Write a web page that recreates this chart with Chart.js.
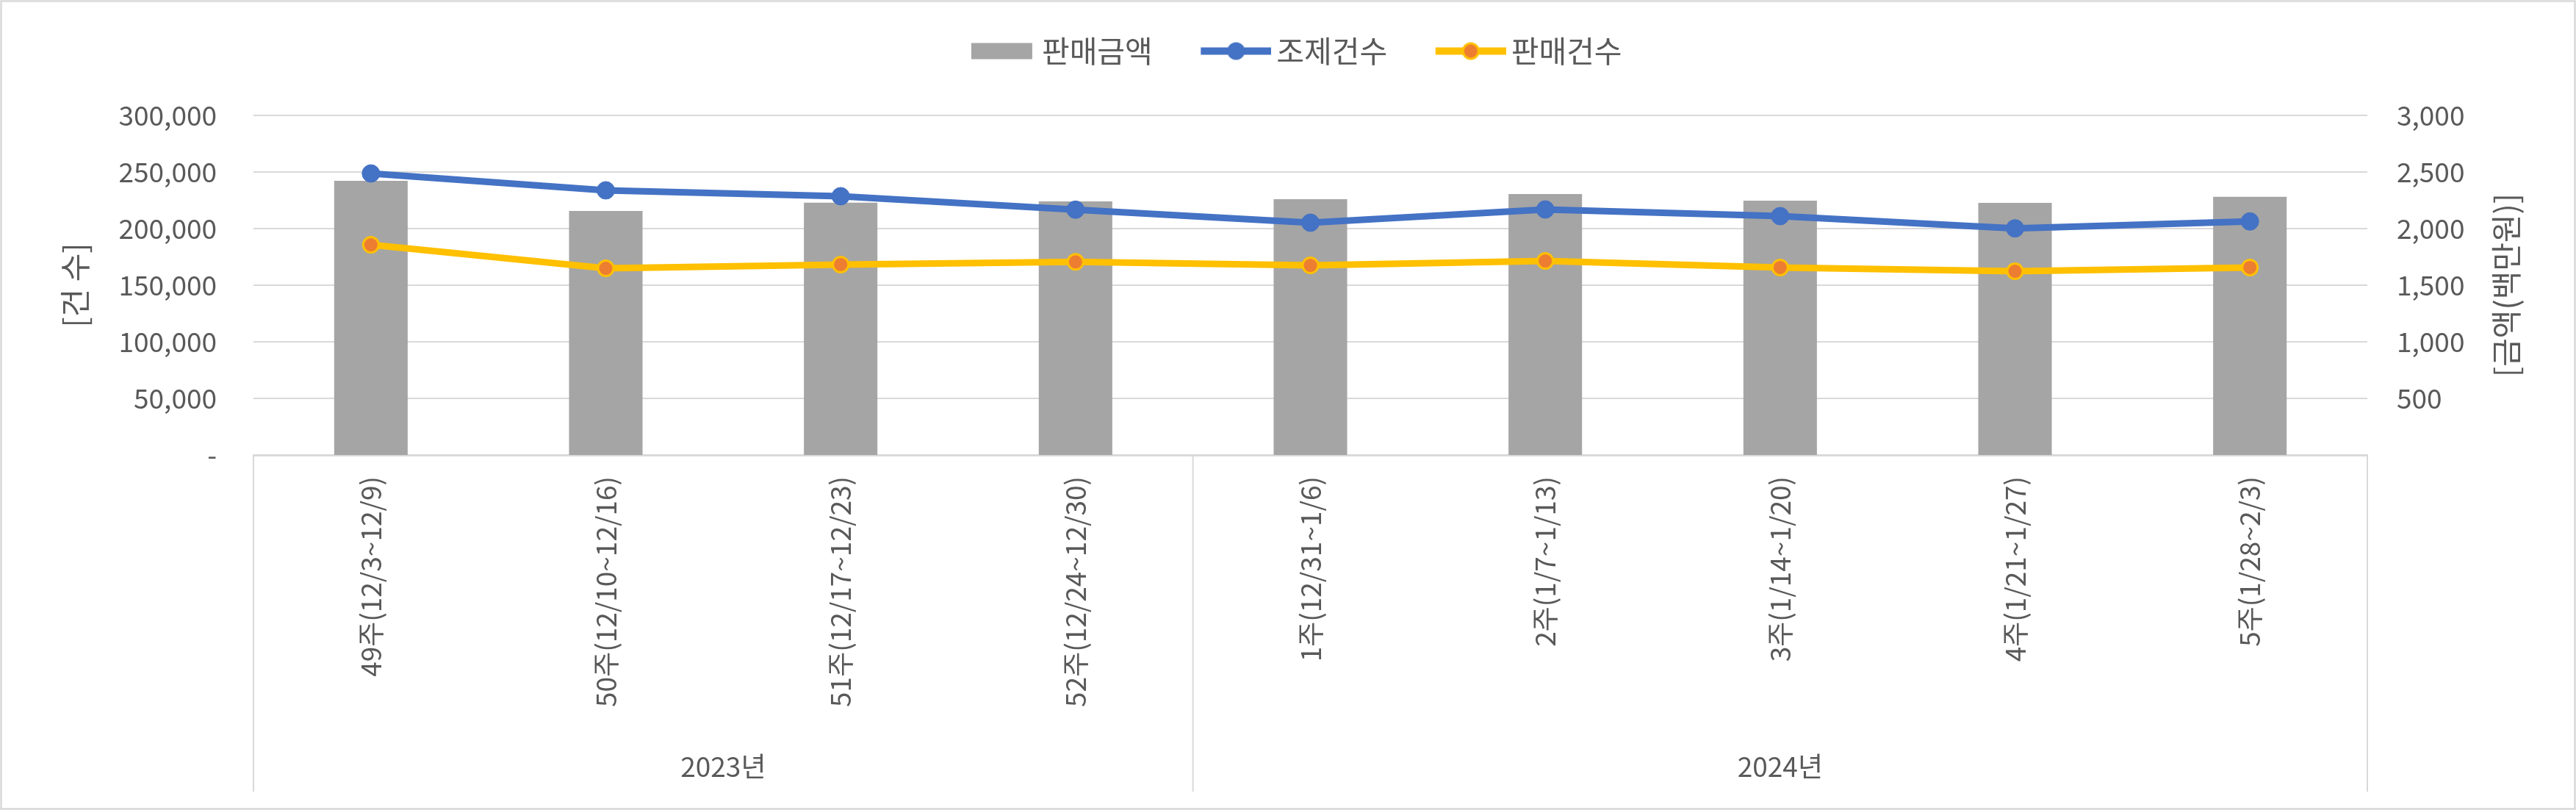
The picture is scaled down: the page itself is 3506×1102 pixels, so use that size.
<!DOCTYPE html>
<html>
<head>
    <meta charset="UTF-8">
    <title>판매금액 / 조제건수 / 판매건수</title>
    <script src="https://cdn.jsdelivr.net/npm/chart.js"></script>
    <style>
        html, body {
            margin: 0;
            padding: 0;
            background: #fff;
        }
        .container {
            width: 3506px;
            height: 1102px;
        }
    </style>
</head>
<body>
    <div class="container">
        <canvas id="weeklyChart" width="3506" height="1102"></canvas>
    </div>

    <script>
        // 주차 / 연도
        const weekLabels = [
            '49주(12/3~12/9)', '50주(12/10~12/16)', '51주(12/17~12/23)', '52주(12/24~12/30)',
            '1주(12/31~1/6)', '2주(1/7~1/13)', '3주(1/14~1/20)', '4주(1/21~1/27)', '5주(1/28~2/3)'
        ];
        const yearLabels = ['2023년', '2024년'];
        const yearSpans = [4, 5];

        // 시리즈 값
        const salesAmount = [2422, 2156, 2229, 2240, 2260, 2305, 2247, 2227, 2281];   // 판매금액 (백만원)
        const dispenseCount = [248700, 233800, 228600, 216700, 205200, 216900, 211000, 200200, 206300]; // 조제건수
        const salesCount = [185700, 164900, 168200, 170600, 167500, 171400, 165600, 162300, 165600];    // 판매건수

        // 축 눈금 / 축 제목
        const countTickLabels = ['-', '50,000', '100,000', '150,000', '200,000', '250,000', '300,000'];
        const amountTickLabels = ['', '500', '1,000', '1,500', '2,000', '2,500', '3,000'];
        const countTitle = '[건 수]';
        const amountTitle = '[금액(백만원)]';

        Chart.defaults.font.family = '"Noto Sans CJK KR", "Noto Sans", sans-serif';
        Chart.defaults.color = '#595959';

        const GRID = '#d9d9d9';

        // 범례 기호 (막대 / 선+마커)
        function legendSymbol(kind) {
            const c = document.createElement('canvas');
            c.width = 126;
            c.height = 40;
            const g = c.getContext('2d');
            if (kind === 'bar') {
                g.fillStyle = '#A5A5A5';
                g.fillRect(37, 9, 83, 22);
                return c;
            }
            const lineColor = kind === 'blue' ? '#4472C4' : '#FFC000';
            g.strokeStyle = lineColor;
            g.lineWidth = 10;
            g.beginPath();
            g.moveTo(30, 20);
            g.lineTo(126, 20);
            g.stroke();
            g.beginPath();
            if (kind === 'blue') {
                g.arc(78, 20, 12, 0, Math.PI * 2);
                g.fillStyle = lineColor;
                g.fill();
            } else {
                g.arc(78, 20, 10.5, 0, Math.PI * 2);
                g.fillStyle = '#ED7D31';
                g.fill();
                g.lineWidth = 3;
                g.strokeStyle = '#FFC000';
                g.stroke();
            }
            return c;
        }
        const legendSymbols = [legendSymbol('bar'), legendSymbol('blue'), legendSymbol('yellow')];

        // 배경과 테두리
        const frame = {
            id: 'frame',
            beforeDraw(chart) {
                const ctx = chart.ctx;
                ctx.save();
                ctx.fillStyle = '#fff';
                ctx.fillRect(0, 0, chart.width, chart.height);
                ctx.strokeStyle = GRID;
                ctx.lineWidth = 2.5;
                ctx.strokeRect(1.5, 1.5, chart.width - 3, chart.height - 3);
                ctx.restore();
            }
        };

        // 범례 아래 여백
        const legendGap = {
            id: 'legendGap',
            beforeInit(chart) {
                const fitLegend = chart.legend.fit;
                chart.legend.fit = function () {
                    fitLegend.call(this);
                    this.height += 57;
                };
            }
        };

        // 오른쪽 축 제목 (아래에서 위로 읽히게)
        const rightTitle = {
            id: 'rightTitle',
            afterDraw(chart) {
                const s = chart.scales.y1;
                const ctx = chart.ctx;
                ctx.save();
                ctx.translate(s.right - 95, (s.top + s.bottom) / 2);
                ctx.rotate(-Math.PI / 2);
                ctx.fillStyle = '#595959';
                ctx.font = '42px "Noto Sans CJK KR", sans-serif';
                ctx.textAlign = 'center';
                ctx.textBaseline = 'middle';
                ctx.fillText(amountTitle, 0, 0);
                ctx.restore();
            }
        };

        // 연도 구분선과 연도 라벨
        const yearGroups = {
            id: 'yearGroups',
            afterDraw(chart) {
                const x = chart.scales.x;
                const ctx = chart.ctx;
                ctx.save();
                ctx.strokeStyle = GRID;
                ctx.lineWidth = 2;
                const edges = [x.left];
                let start = 0;
                yearSpans.forEach((span, i) => {
                    const end = start + span - 1;
                    if (i < yearSpans.length - 1) {
                        edges.push((x.getPixelForTick(end) + x.getPixelForTick(end + 1)) / 2);
                    }
                    ctx.fillStyle = '#595959';
                    ctx.font = '37px "Noto Sans CJK KR", sans-serif';
                    ctx.textAlign = 'center';
                    ctx.textBaseline = 'middle';
                    const cx = (x.getPixelForTick(start) + x.getPixelForTick(end)) / 2;
                    ctx.fillText(yearLabels[i], cx, x.bottom - 34);
                    start = end + 1;
                });
                edges.push(x.right);
                edges.forEach(px => {
                    ctx.beginPath();
                    ctx.moveTo(px, x.top);
                    ctx.lineTo(px, x.bottom);
                    ctx.stroke();
                });
                ctx.restore();
            }
        };

        const ctx = document.getElementById('weeklyChart').getContext('2d');
        const chart = new Chart(ctx, {
            type: 'bar',
            data: {
                labels: weekLabels,
                datasets: [{
                    type: 'bar',
                    label: '판매금액',
                    data: salesAmount,
                    yAxisID: 'y1',
                    backgroundColor: '#A5A5A5',
                    categoryPercentage: 1,
                    barPercentage: 0.313,
                    order: 3
                }, {
                    type: 'line',
                    label: '조제건수',
                    data: dispenseCount,
                    yAxisID: 'y',
                    borderColor: '#4472C4',
                    borderWidth: 9,
                    pointRadius: 12,
                    pointBackgroundColor: '#4472C4',
                    pointBorderColor: '#4472C4',
                    pointBorderWidth: 1,
                    tension: 0,
                    order: 2
                }, {
                    type: 'line',
                    label: '판매건수',
                    data: salesCount,
                    yAxisID: 'y',
                    borderColor: '#FFC000',
                    borderWidth: 9,
                    pointRadius: 10.5,
                    pointBackgroundColor: '#ED7D31',
                    pointBorderColor: '#FFC000',
                    pointBorderWidth: 3,
                    tension: 0,
                    order: 1
                }]
            },
            options: {
                responsive: false,
                animation: false,
                events: [],
                layout: {
                    padding: { top: 0, left: 0, right: 0, bottom: 25 }
                },
                plugins: {
                    tooltip: { enabled: false },
                    legend: {
                        position: 'top',
                        labels: {
                            usePointStyle: true,
                            pointStyleWidth: 99,
                            padding: 49,
                            font: { size: 41 },
                            color: '#595959',
                            generateLabels(chart) {
                                const items = Chart.defaults.plugins.legend.labels.generateLabels(chart);
                                items.forEach(item => {
                                    item.pointStyle = legendSymbols[item.datasetIndex];
                                });
                                return items.sort((a, b) => a.datasetIndex - b.datasetIndex);
                            }
                        }
                    }
                },
                scales: {
                    x: {
                        grid: { display: false, drawTicks: false },
                        border: { display: true, color: GRID, width: 3 },
                        ticks: {
                            autoSkip: false,
                            minRotation: 90,
                            maxRotation: 90,
                            padding: 29,
                            font: { size: 37 }
                        },
                        afterFit(scale) {
                            scale.height = 458;
                        }
                    },
                    y: {
                        position: 'left',
                        min: 0,
                        max: 300000,
                        ticks: {
                            stepSize: 50000,
                            padding: 50,
                            font: { size: 37 },
                            callback: (value, index) => countTickLabels[index]
                        },
                        grid: { color: GRID, lineWidth: 2, drawTicks: false },
                        border: { display: false },
                        title: {
                            display: true,
                            text: countTitle,
                            font: { size: 42 },
                            padding: { top: 77, bottom: 0 }
                        },
                        afterFit(scale) {
                            scale.width = 345;
                        }
                    },
                    y1: {
                        position: 'right',
                        min: 0,
                        max: 3000,
                        ticks: {
                            stepSize: 500,
                            padding: 40,
                            font: { size: 37 },
                            callback: (value, index) => amountTickLabels[index]
                        },
                        grid: { display: false, drawTicks: false },
                        border: { display: false },
                        afterFit(scale) {
                            scale.width = 284;
                        }
                    }
                }
            },
            plugins: [frame, legendGap, rightTitle, yearGroups]
        });
    </script>
</body>
</html>
